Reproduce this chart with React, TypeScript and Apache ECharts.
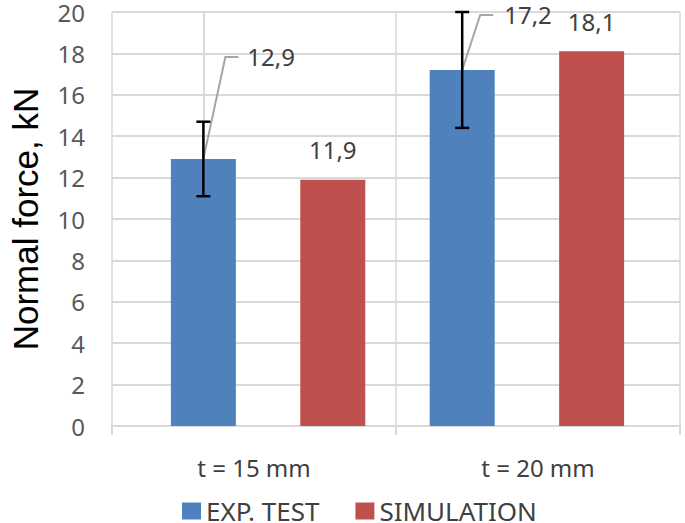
import React, { useEffect, useRef } from "react";
import * as echarts from "echarts";

const categories = ["t = 15 mm", "t = 20 mm"];
const seriesNames = ["EXP. TEST", "SIMULATION"];
const expValues = [12.9, 17.2];
const simValues = [11.9, 18.1];
const expErrors = [1.8, 2.8];
const yTicks = { min: 0, max: 20, interval: 2 };

const COLORS = ["#4f81bd", "#c0504d"];
const GRID = "#d9d9d9";
const FONT = "'Noto Sans', sans-serif";
// pixel offsets for the moved EXP labels (layout, not data)
const expLabelLayout = [
  { bendDx: 22, dy: -102, endDx: 35, textDx: 44 },
  { bendDx: 18, dy: -55, endDx: 31, textDx: 42 },
];

const fmt = (v: number) => v.toFixed(1).replace(".", ",");
const slot = (ci: number, si: number) => ci * seriesNames.length + si;

export default function App() {
  const ref = useRef<HTMLDivElement>(null);
  useEffect(() => {
    if (!ref.current) return;
    const chart = echarts.init(ref.current, null, { renderer: "svg" });
    const expData = expValues.map((v, i) => [slot(i, 0), v]);
    const simData = simValues.map((v, i) => [slot(i, 1), v]);
    const errData = expValues.map((v, i) => [slot(i, 0), v - expErrors[i], v + expErrors[i]]);
    const lblData = expValues.map((v, i) => [slot(i, 0), v, i]);

    chart.setOption({
      animation: false,
      textStyle: { fontFamily: FONT },
      grid: { left: 105, right: 5, top: 12, bottom: 97, containLabel: false },
      legend: {
        data: seriesNames,
        left: 177,
        top: 493,
        icon: "rect",
        itemWidth: 19,
        itemHeight: 17,
        itemGap: 36,
        textStyle: { fontSize: 26, color: "#404040", fontFamily: FONT, lineHeight: 24 },
      },
      xAxis: [
        {
          type: "category",
          data: categories,
          axisLine: { show: true, lineStyle: { color: GRID, width: 2 } },
          axisTick: { show: true, length: 9, lineStyle: { color: GRID, width: 2 } },
          splitLine: { show: true, lineStyle: { color: GRID, width: 1.5 } },
          axisLabel: { fontSize: 24, color: "#404040", margin: 27, lineHeight: 28, fontFamily: FONT },
        },
        {
          type: "value",
          min: -0.706,
          max: 3.683,
          show: false,
          splitLine: { show: false },
        },
      ],
      yAxis: {
        type: "value",
        min: yTicks.min,
        max: yTicks.max,
        interval: yTicks.interval,
        axisLine: { show: true, lineStyle: { color: GRID, width: 2 } },
        axisTick: { show: false },
        splitLine: { show: true, lineStyle: { color: GRID, width: 2 } },
        axisLabel: { fontSize: 24, color: "#595959", margin: 27, lineHeight: 22, fontFamily: FONT },
        name: "Normal force, kN",
        nameLocation: "middle",
        nameGap: 69,
        nameTextStyle: { fontSize: 35, color: "#000", fontFamily: "'Liberation Sans', Arial, sans-serif" },
      },
      series: [
        {
          name: seriesNames[0],
          type: "bar",
          xAxisIndex: 1,
          data: expData,
          barWidth: 65,
          barGap: "-100%",
          itemStyle: { color: COLORS[0] },
        },
        {
          name: seriesNames[1],
          type: "bar",
          xAxisIndex: 1,
          data: simData,
          barWidth: 65,
          barGap: "-100%",
          itemStyle: { color: COLORS[1] },
          label: {
            show: true,
            position: "top",
            distance: 19,
            fontSize: 24,
            lineHeight: 22,
            color: "#404040",
            fontFamily: FONT,
            formatter: (p: any) => fmt(p.value[1]),
          },
        },
        {
          type: "custom",
          xAxisIndex: 1,
          data: lblData,
          z: 3,
          silent: true,
          renderItem: (params: any, api: any) => {
            const p = api.coord([api.value(0), api.value(1)]);
            const L = expLabelLayout[api.value(2)];
            const y = p[1] + L.dy;
            return {
              type: "group",
              children: [
                {
                  type: "polyline",
                  shape: { points: [[p[0], p[1]], [p[0] + L.bendDx, y], [p[0] + L.endDx, y]] },
                  style: { stroke: "#a6a6a6", lineWidth: 2, fill: "none" },
                },
                {
                  type: "text",
                  x: p[0] + L.textDx,
                  y: y,
                  style: {
                    text: fmt(api.value(1)),
                    fontSize: 24,
                    lineHeight: 22,
                    fontFamily: FONT,
                    fill: "#404040",
                    textAlign: "left",
                    textVerticalAlign: "middle",
                  },
                },
              ],
            };
          },
        },
        {
          type: "custom",
          xAxisIndex: 1,
          data: errData,
          z: 4,
          silent: true,
          renderItem: (params: any, api: any) => {
            const x = api.value(0);
            const lo = api.coord([x, api.value(1)]);
            const hi = api.coord([x, api.value(2)]);
            const cap = 7;
            const st = { stroke: "#000", lineWidth: 2.5 };
            return {
              type: "group",
              children: [
                { type: "line", shape: { x1: lo[0], y1: lo[1], x2: hi[0], y2: hi[1] }, style: st },
                { type: "line", shape: { x1: lo[0] - cap, y1: lo[1], x2: lo[0] + cap, y2: lo[1] }, style: st },
                { type: "line", shape: { x1: hi[0] - cap, y1: hi[1], x2: hi[0] + cap, y2: hi[1] }, style: st },
              ],
            };
          },
        },
      ],
    });
    return () => chart.dispose();
  }, []);
  return <div ref={ref} style={{ width: 685, height: 523, position: "absolute", left: 0, top: 0 }} />;
}
